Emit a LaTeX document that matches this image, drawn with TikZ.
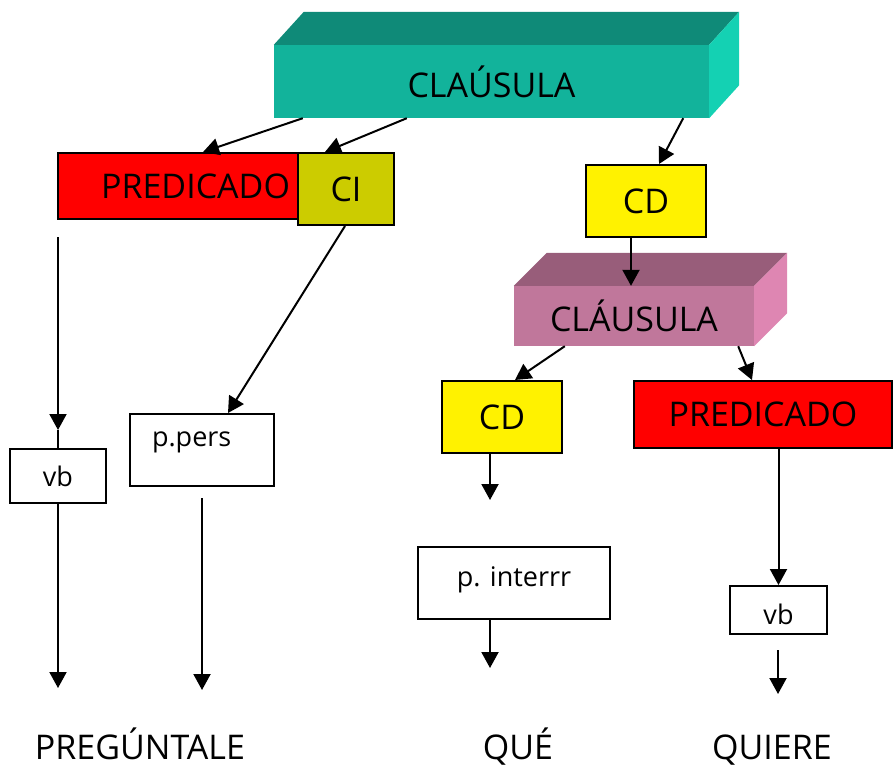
\documentclass[tikz,border=0pt]{standalone}
\usepackage{fontspec}
\setmainfont{Open Sans}
\usetikzlibrary{arrows.meta}
\definecolor{tealfront}{HTML}{12B39B}
\definecolor{tealtop}{HTML}{0F8A78}
\definecolor{tealside}{HTML}{14D1B3}
\definecolor{pinkfront}{HTML}{C0779B}
\definecolor{pinktop}{HTML}{985D7A}
\definecolor{pinkside}{HTML}{DE86B2}
\definecolor{olive}{HTML}{CCCC00}
\tikzstyle{slab} = [rectangle, text centered, font=\fontsize{34}{34}\selectfont]
\tikzstyle{process} = [rectangle, draw=black, line width=2pt, text centered, font=\fontsize{34}{34}\selectfont]
\tikzstyle{word} = [rectangle, draw=black, line width=2pt, fill=white, font=\fontsize{27}{27}\selectfont]
\tikzstyle{leaf} = [anchor=base, font=\fontsize{34}{34}\selectfont]
\tikzstyle{arrow} = [line width=2pt,-{Triangle[length=16pt,width=17pt]}]

\begin{document}
\begin{tikzpicture}[x=1pt,y=-1pt]
\useasboundingbox (0,0) rectangle (893,772);

% main clause
\node (clause) [slab, fill=tealfront, minimum width=435pt, minimum height=73pt] at (491.5,81.5) {CLAÚSULA};
\fill[tealtop] (clause.north west) -- ++(30,-33) -- ([shift={(30,-33)}]clause.north east) -- (clause.north east) -- cycle;
\fill[tealside] (clause.north east) -- ++(30,-33) -- ([shift={(30,-33)}]clause.south east) -- (clause.south east) -- cycle;

\node (pred) [process, fill=red, minimum width=242pt, minimum height=66pt, text width=222pt, align=right] at (179,186) {PREDICADO};
\node (ci) [process, fill=olive, minimum width=96pt, minimum height=72pt] at (346,189) {CI};
\node (cd) [process, fill=yellow, minimum width=120pt, minimum height=72pt] at (646,201) {CD};

% subordinate clause
\node (subclause) [slab, fill=pinkfront, minimum width=240pt, minimum height=60pt] at (634,316) {CLÁUSULA};
\fill[pinktop] (subclause.north west) -- ++(33,-33) -- ([shift={(33,-33)}]subclause.north east) -- (subclause.north east) -- cycle;
\fill[pinkside] (subclause.north east) -- ++(33,-33) -- ([shift={(33,-33)}]subclause.south east) -- (subclause.south east) -- cycle;

\node (subcd) [process, fill=yellow, minimum width=120pt, minimum height=72pt] at (502,417) {CD};
\node (subpred) [process, fill=red, minimum width=258pt, minimum height=67pt] at (763,414.5) {PREDICADO};

% word classes
\node (vbleft) [word, minimum width=96pt, minimum height=54pt] at (58,476) {vb};
\node (ppers) [word, minimum width=144pt, minimum height=72pt, text width=100pt, align=left, text depth=22pt] at (202,450) {p.pers};
\node (pint) [word, minimum width=192pt, minimum height=72pt, text depth=12pt] at (514,583) {p. interrr};
\node (vbright) [word, minimum width=97pt, minimum height=48pt, text height=30pt] at (778.5,610) {vb};

% words
\node (pregunta) [leaf] at (140,759) {PREGÚNTALE};
\node (que) [leaf] at (518,759) {QUÉ};
\node (quiere) [leaf] at (772,759) {QUIERE};

\coordinate (lstart) at (58,237);
\coordinate (ltip) at (58,430);
\coordinate (lend) at (58,688);
\coordinate (pend) at (202,690);
\coordinate (pstart) at (202,498);
\coordinate (cdend) at (490,500);
\coordinate (pintend) at (490,668);
\coordinate (vbstart) at (778,650);
\coordinate (vbend) at (778,694);

\draw [arrow] ([xshift=29pt]clause.south west) -- ([xshift=24pt]pred.north);
\draw [arrow] ([xshift=133pt]clause.south west) -- ([xshift=-21pt]ci.north);
\draw [arrow] ([xshift=-26pt]clause.south east) -- ([xshift=13pt]cd.north);
\draw [arrow] ([xshift=-15pt]cd.south) -- ([xshift=-3pt]subclause.north);
\draw [arrow] ([xshift=51pt]subclause.south west) -- ([xshift=13pt]subcd.north);
\draw [arrow] ([xshift=-16pt]subclause.south east) -- ([xshift=-11pt]subpred.north);

\draw [arrow] (lstart) -- (ltip);
\draw [line width=2pt] (ltip) -- (vbleft.north);
\draw [arrow] (vbleft.south) -- (lend);
\draw [arrow] ([xshift=-1pt]ci.south) -- ([xshift=26pt]ppers.north);
\draw [arrow] (pstart) -- (pend);
\draw [arrow] ([xshift=-12pt]subcd.south) -- (cdend);
\draw [arrow] ([xshift=-24pt]pint.south) -- (pintend);
\draw [arrow] (vbright.north |- subpred.south) -- (vbright.north);
\draw [arrow] (vbstart) -- (vbend);
\end{tikzpicture}
\end{document}
